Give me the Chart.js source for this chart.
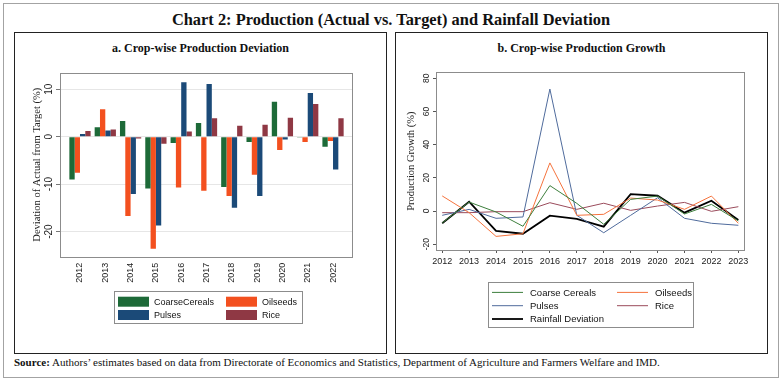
<!DOCTYPE html>
<html>
<head>
<meta charset="utf-8">
<script src="https://cdn.jsdelivr.net/npm/chart.js@4.4.0/dist/chart.umd.min.js"></script>
<style>
  body { margin: 0; width: 782px; height: 381px; background: #fff; position: relative; overflow: hidden; font-family: "Liberation Serif", serif; color: #111; }
  #outer { position: absolute; left: 3px; top: 3px; width: 776px; height: 375px; border: 1.5px solid #a3a3a3; box-sizing: border-box; }
  #title { position: absolute; left: 0; width: 782px; top: 12px; text-align: center; font-size: 16.4px; font-weight: bold; line-height: 16px; white-space: nowrap; }
  .panel { position: absolute; top: 32px; width: 373px; height: 322px; border: 1px solid #222; box-sizing: border-box; }
  .sub { position: absolute; top: 42px; width: 373px; text-align: center; font-size: 12px; font-weight: bold; line-height: 12px; white-space: nowrap; }
  canvas { position: absolute; }
  #source { position: absolute; left: 14px; top: 357px; font-size: 11px; line-height: 11px; white-space: nowrap; }
</style>
</head>
<body>
<div id="outer"></div>
<div id="title">Chart 2: Production (Actual vs. Target) and Rainfall Deviation</div>
<div class="panel" style="left:14px"></div>
<div class="panel" style="left:395px"></div>
<div class="sub" style="left:14px">a. Crop-wise Production Deviation</div>
<div class="sub" style="left:395px">b. Crop-wise Production Growth</div>
<canvas id="devChart" width="370" height="296" style="left:15px;top:56px"></canvas>
<canvas id="growthChart" width="370" height="296" style="left:396px;top:56px"></canvas>
<div id="source"><b>Source:</b> Authors’ estimates based on data from Directorate of Economics and Statistics, Department of Agriculture and Farmers Welfare and IMD.</div>

<script>
// Panel a: deviation of actual production from target (%)
const devYears = [2012, 2013, 2014, 2015, 2016, 2017, 2018, 2019, 2020, 2021, 2022];
const coarseCereals = [-9.0, 2.0, 3.3, -10.9, -1.3, 2.9, -10.6, -1.1, 7.4, -0.15, -2.1];
const oilseeds = [-7.6, 5.8, -16.7, -23.6, -10.7, -11.4, -12.5, -8.0, -2.8, -1.1, -0.9];
const pulses = [0.6, 1.3, -12.1, -18.7, 11.5, 11.1, -15.0, -12.5, -0.6, 9.2, -6.9];
const rice = [1.2, 1.5, -0.4, -1.5, 1.1, 3.9, 2.3, 2.5, 4.0, 6.9, 3.9];
const devTicks = [-20, -10, 0, 10];

// Panel b: production growth (%) and rainfall deviation
const growthYears = [2012, 2013, 2014, 2015, 2016, 2017, 2018, 2019, 2020, 2021, 2022, 2023];
const cerealsGrowth = [-7.2, 5.4, -0.6, -9.2, 15.3, 4.6, -8.0, 7.0, 9.0, -1.8, 4.0, -6.0];
const oilseedsGrowth = [9.1, -1.0, -15.3, -13.7, 29.0, -2.6, -2.0, 7.8, 6.6, 1.0, 9.0, -7.4];
const pulsesGrowth = [-2.6, 1.0, -4.4, -3.6, 73.5, -2.6, -13.1, -2.6, 8.0, -4.4, -7.4, -8.6];
const riceGrowth = [-1.0, -1.0, -0.4, -0.4, 5.0, 1.0, 4.7, 0.4, 3.0, 5.2, -0.2, 2.6];
const rainfallDev = [-7.4, 5.6, -12.0, -13.7, -2.8, -4.8, -9.4, 10.2, 9.2, -1.0, 6.2, -5.4];
const growthTicks = [-20, 0, 20, 40, 60, 80];

const sans = '"Liberation Sans", Arial, sans-serif';
const serif = '"Liberation Serif", serif';

// grey box round the plot region
const frame = {
    id: 'frame',
    afterDraw(chart) {
        const a = chart.chartArea;
        const ctx = chart.ctx;
        ctx.save();
        ctx.strokeStyle = '#8c8c8c';
        ctx.lineWidth = 1;
        ctx.strokeRect(Math.round(a.left) + 0.5, Math.round(a.top) + 0.5, Math.round(a.right - a.left), Math.round(a.bottom - a.top));
        ctx.restore();
    }
};

// legend in a box, two columns
const boxLegend = {
    id: 'boxLegend',
    afterDraw(chart, args, o) {
        const ctx = chart.ctx;
        ctx.save();
        ctx.strokeStyle = '#8c8c8c';
        ctx.lineWidth = 1;
        ctx.strokeRect(o.x + 0.5, o.y + 0.5, o.w, o.h);
        ctx.font = o.font;
        ctx.textBaseline = 'middle';
        chart.data.datasets.forEach((ds, i) => {
            const sx = o.x + o.colX[i % 2];
            const sy = o.y + o.rowY[Math.floor(i / 2)];
            if (o.kind === 'bar') {
                ctx.fillStyle = ds.backgroundColor;
                ctx.fillRect(sx, sy - 5, o.swW, 10);
            } else {
                ctx.strokeStyle = ds.borderColor;
                ctx.lineWidth = ds.borderWidth;
                ctx.beginPath();
                ctx.moveTo(sx, sy);
                ctx.lineTo(sx + o.swW, sy);
                ctx.stroke();
            }
            ctx.fillStyle = '#111';
            ctx.fillText(o.labels[i], sx + o.swW + o.gap, sy + 0.5);
        });
        ctx.restore();
    }
};

const setTicks = list => scale => { scale.ticks = list.map(v => ({ value: v })); };

new Chart(document.getElementById('devChart'), {
    type: 'bar',
    data: {
        labels: devYears,
        datasets: [
            { label: 'CoarseCereals', data: coarseCereals, backgroundColor: '#1d6a38' },
            { label: 'Oilseeds', data: oilseeds, backgroundColor: '#f3501f' },
            { label: 'Pulses', data: pulses, backgroundColor: '#1b4a78' },
            { label: 'Rice', data: rice, backgroundColor: '#8f3844' }
        ]
    },
    options: {
        responsive: false,
        animation: false,
        layout: { padding: { left: 0, right: 33, top: 16.7, bottom: 0 } },
        datasets: { bar: { categoryPercentage: 0.84, barPercentage: 1 } },
        plugins: {
            legend: { display: false },
            tooltip: { enabled: false },
            boxLegend: {
                kind: 'bar', x: 99, y: 235, w: 188, h: 32,
                colX: [4, 112], rowY: [10.7, 24], swW: 31, gap: 5,
                font: '9px ' + sans,
                labels: ['CoarseCereals', 'Oilseeds', 'Pulses', 'Rice']
            }
        },
        scales: {
            x: {
                type: 'linear',
                offset: false,
                min: 2011.21,
                max: 2022.75,
                afterBuildTicks: setTicks(devYears),
                afterFit: s => { s.height = 95.3; },
                grid: { display: false, drawTicks: false },
                border: { display: false },
                ticks: {
                    autoSkip: false, minRotation: 90, maxRotation: 90, padding: 6,
                    color: '#222', font: { family: sans, size: 9 },
                    callback: v => String(v)
                }
            },
            y: {
                min: -25.3,
                max: 13.5,
                afterBuildTicks: setTicks(devTicks),
                afterFit: s => { s.width = 45; },
                grid: { color: '#e6e6e6', tickColor: '#777', tickLength: 4 },
                border: { display: false },
                ticks: {
                    minRotation: 90, maxRotation: 90, crossAlign: 'center', padding: 0,
                    color: '#222', font: { family: sans, size: 10 },
                    callback: v => String(v)
                },
                title: {
                    display: true, text: 'Deviation of Actual from Target (%)',
                    color: '#222', font: { family: serif, size: 10.5 },
                    padding: { top: 15.7, bottom: 0 }
                }
            }
        }
    },
    plugins: [frame, boxLegend]
});

new Chart(document.getElementById('growthChart'), {
    type: 'line',
    data: {
        labels: growthYears,
        datasets: [
            { label: 'Coarse Cereals', data: cerealsGrowth, borderColor: '#3d7f3d', borderWidth: 1 },
            { label: 'Oilseeds', data: oilseedsGrowth, borderColor: '#f5733d', borderWidth: 1 },
            { label: 'Pulses', data: pulsesGrowth, borderColor: '#4f6b9c', borderWidth: 1 },
            { label: 'Rice', data: riceGrowth, borderColor: '#9a4b5b', borderWidth: 1 },
            { label: 'Rainfall Deviation', data: rainfallDev, borderColor: '#000', borderWidth: 1.8 }
        ]
    },
    options: {
        responsive: false,
        animation: false,
        layout: { padding: { left: 0, right: 22, top: 16.3, bottom: 0 } },
        elements: { point: { radius: 0 }, line: { tension: 0 } },
        plugins: {
            legend: { display: false },
            tooltip: { enabled: false },
            boxLegend: {
                kind: 'line', x: 92, y: 226, w: 205, h: 45,
                colX: [4, 129], rowY: [10.4, 23.7, 37], swW: 31, gap: 7,
                font: '9.5px ' + sans,
                labels: ['Coarse Cereals', 'Oilseeds', 'Pulses', 'Rice', 'Rainfall Deviation']
            }
        },
        scales: {
            x: {
                type: 'linear',
                min: 2011.77,
                max: 2023.21,
                afterBuildTicks: setTicks(growthYears),
                afterFit: s => { s.height = 102; },
                grid: { drawOnChartArea: false, tickColor: '#555', tickLength: 3 },
                border: { display: false },
                ticks: {
                    autoSkip: false, maxRotation: 0, padding: 3,
                    color: '#222', font: { family: sans, size: 9 },
                    callback: v => String(v)
                }
            },
            y: {
                min: -23.5,
                max: 83.6,
                afterBuildTicks: setTicks(growthTicks),
                afterFit: s => { s.width = 40; },
                grid: { drawOnChartArea: false, tickColor: '#555', tickLength: 3 },
                border: { display: false },
                ticks: {
                    minRotation: 90, maxRotation: 90, crossAlign: 'center', padding: 0,
                    color: '#222', font: { family: sans, size: 8.5 },
                    callback: v => String(v)
                },
                title: {
                    display: true, text: 'Production Growth (%)',
                    color: '#222', font: { family: serif, size: 10.5 },
                    padding: { top: 9.4, bottom: 0 }
                }
            }
        }
    },
    plugins: [frame, boxLegend]
});
</script>
</body>
</html>
